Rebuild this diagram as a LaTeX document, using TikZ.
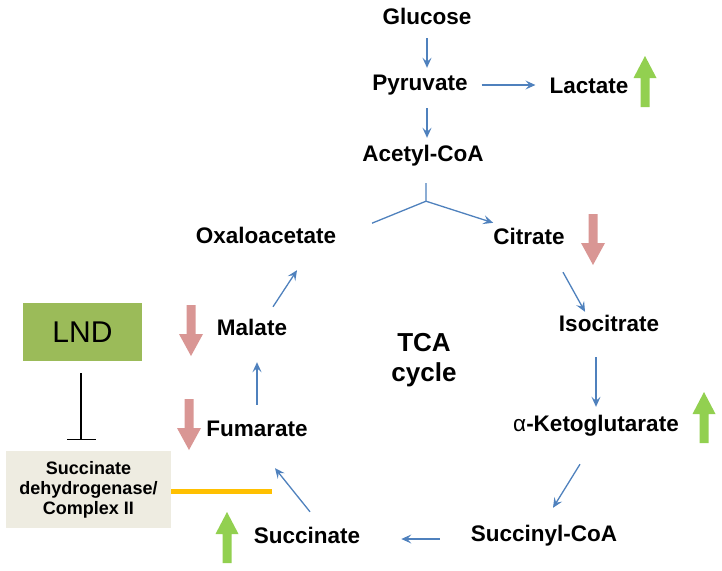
\documentclass[tikz,border=0pt]{standalone}
\usepackage{fontspec}
\setmainfont{Liberation Sans}
\usetikzlibrary{arrows.meta}
\usetikzlibrary{calc}
\definecolor{flowblue}{RGB}{79,129,189}
\definecolor{upgreen}{RGB}{146,208,80}
\definecolor{downred}{RGB}{217,150,148}
\definecolor{lndgreen}{RGB}{155,187,89}
\definecolor{sdhgray}{RGB}{238,236,225}
\definecolor{sdhorange}{RGB}{255,192,0}

\tikzset{
  metab/.style={font=\fontsize{22.5}{26}\selectfont\bfseries, inner sep=0pt, text height=16pt, text depth=0pt},
  flow/.style={flowblue, line width=1.3pt, -{Stealth[length=10pt,width=9pt,inset=4pt]}},
  lndbox/.style={fill=lndgreen, minimum width=119pt, minimum height=58pt, inner sep=0pt,
    font=\fontsize{30}{34}\selectfont},
  sdhbox/.style={fill=sdhgray, minimum width=165pt, minimum height=77pt, inner sep=0pt,
    align=center, font=\fontsize{18}{20}\selectfont\bfseries},
  tcalabel/.style={font=\fontsize{26}{30}\selectfont\bfseries, align=center, inner sep=0pt},
  fatup/.pic={\fill[upgreen] (-4.5,25.5) -- (4.5,25.5) -- (4.5,-3.5) -- (11.5,-3.5) -- (0,-25.5)
    -- (-11.5,-3.5) -- (-4.5,-3.5) -- cycle;},
  fatdown/.pic={\fill[downred] (-4.5,-25.5) -- (4.5,-25.5) -- (4.5,3.5) -- (12,3.5) -- (0,25.5)
    -- (-12,3.5) -- (-4.5,3.5) -- cycle;}
}

\begin{document}
\begin{tikzpicture}[x=1pt,y=-1pt]

  \useasboundingbox (0,0) rectangle (722,570);

  % Glycolysis
  \node[metab] (glucose) at (427,16) {Glucose};
  \node[metab] (pyruvate) at (420,82) {Pyruvate};
  \node[metab] (lactate) at (589,85) {Lactate};
  \node[metab] (acetyl) at (423,153) {Acetyl-CoA};

  % TCA cycle intermediates
  \node[metab] (oxalo) at (266,235) {Oxaloacetate};
  \node[metab] (citrate) at (529,236) {Citrate};
  \node[metab] (isocit) at (609,323) {Isocitrate};
  \node[metab] (akg) at (596,423) {{\mdseries α}-Ketoglutarate};
  \node[metab] (succoa) at (544,533) {Succinyl-CoA};
  \node[metab] (succ) at (307,535) {Succinate};
  \node[metab] (fum) at (257,428) {Fumarate};
  \node[metab] (malate) at (252,327) {Malate};
  \node[tcalabel, anchor=north] (tca) at (424,333) {TCA\\cycle};

  % Drug and target
  \node[lndbox] (lnd) at (82.5,332) {LND};
  \node[sdhbox] (sdh) at (88.5,489.5) {Succinate\\dehydrogenase/\\Complex II};

  % Glycolysis arrows
  \draw[flow] ($(glucose.south)+(0,14)$) -- ($(pyruvate.north -| glucose)+(0,-6)$);
  \draw[flow] ($(pyruvate.south -| glucose)+(0,18)$) -- ($(acetyl.north -| glucose)+(0,-7)$);
  \draw[flow] ($(pyruvate.east |- lactate)+(14,0)$) -- ($(lactate.west)+(-14,0)$);

  % Entry into the cycle
  \coordinate (fork) at ($(acetyl.south)+(3,40)$);
  \draw[flow, -] ($(fork)+(0,-18)$) -- (fork) -- ($(fork)+(-54,22)$);
  \draw[flow] (fork) -- ($(citrate.north west)+(0,-5)$);

  % Cycle arrows
  \draw[flow] ($(citrate.south)+(34,28)$) -- ($(isocit.north)+(-24,-3)$);
  \draw[flow] ($(isocit.south -| akg)+(0,26)$) -- ($(akg.north)+(0,-8)$);
  \draw[flow] ($(akg.south)+(-16,33)$) -- ($(succoa.north)+(9,-17)$);
  \draw[flow] ($(succoa.west)+(-31,6)$) -- ($(succ.east)+(41,4)$);
  \draw[flow] ($(succ.north)+(3,-15)$) -- ($(fum.south)+(18,32)$);
  \draw[flow] ($(fum.north)+(0,-15)$) -- ($(malate.south)+(5,27)$);
  \draw[flow] ($(malate.north)+(21,-12)$) -- ($(oxalo.south)+(31,27)$);

  % Inhibition of complex II
  \draw[line width=1.2pt, -{Bar[width=29pt]}] ($(lnd.south)+(-1.5,12)$) -- ($(sdh.north -| lnd.south)+(-1.5,-11)$);
  \coordinate (sdhend) at (272,491);
  \draw[sdhorange, line width=5pt] (sdh.east |- sdhend) -- (sdhend);

  % Up / down changes
  \pic at (645,81.5) {fatup};
  \pic at (593,239.5) {fatdown};
  \pic at (704,417.5) {fatup};
  \pic at (191,330.5) {fatdown};
  \pic at (189,424.5) {fatdown};
  \pic at (227,537.5) {fatup};

\end{tikzpicture}
\end{document}
